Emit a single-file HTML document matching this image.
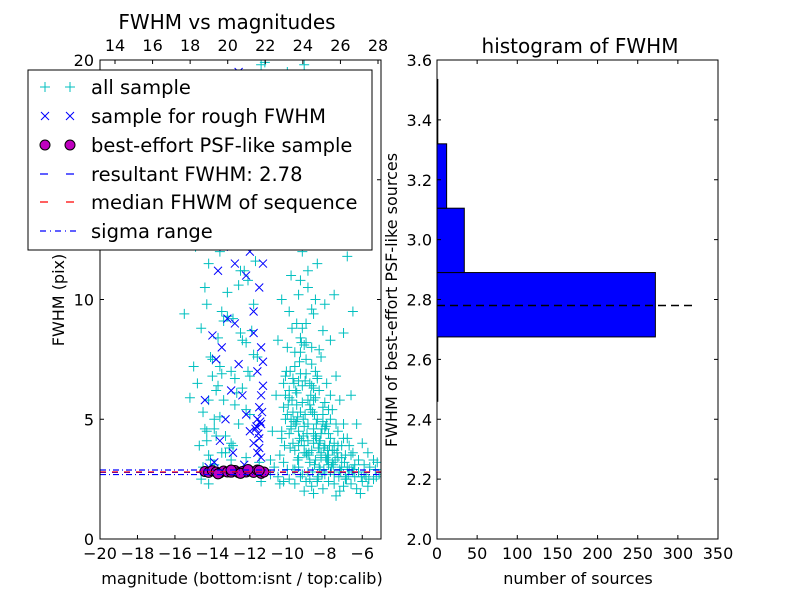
<!DOCTYPE html>
<html><head><meta charset="utf-8"><style>
body{margin:0;background:#fff;}
svg{font-family:"DejaVu Sans","Liberation Sans",sans-serif;}
</style></head><body>
<svg id="c" width="800" height="600" viewBox="0 0 800 600"></svg>
<script>
const allMag=[-15.5,-15,-14.8,-14.6,-14.5,-14.3,-14.7,-15.2,-14.4,-14.2,-14.9,-14.1,-14.6,-14.3,-14.0,-13.8,-13.6,-13.9,-13.5,-14.1,-13.7,-13.4,-13.2,-13.0,-12.8,-12.6,-13.3,-12.9,-12.4,-12.2,-12.5,-12.7,-13.1,-12.3,-12.0,-11.8,-13.6,-14.4,-13.8,-12.9,-12.6,-11.9,-11.6,-11.4,-11.2,-12.1,-13.5,-14.2,-13.9,-12.2,-11.5,-13.0,-14.5,-14.6,
-10.4,-10.3,-10.2,-10.1,-10.0,-9.9,-9.8,-9.6,-9.5,-9.7,-9.3,-9.1,-9.0,-8.8,-9.4,-9.2,-9.0,-8.8,-8.6,-8.4,-8.2,-8.0,-7.8,-7.6,-9.6,-9.5,-9.3,-9.1,-8.9,-8.7,-9.8,-9.7,-9.9,-10.2,-9.4,-8.5,-9.3,-9.0,-8.7,-8.5,-8.3,-8.1,-7.9,-7.7,-7.5,-8.9,-8.6,-8.2,-7.9,-7.6,-7.3,-7.1,-6.9,-8.4,-8.0,-7.7,-7.4,-7.2,-7.0,-6.8,-6.5,-6.2,-5.9,-5.6,-5.3,-7.0,-6.6,-6.3,-6.0,-5.7,-5.4,-9.9,-10.3,-10.5,-10.6,-10.8,-10.9,-9.2,-8.5,-8.0,-7.5,-9.6,-10.0,-8.8,-7.8,-6.5,-6.8,-7.2,
-9.5,-9.2,-8.9,-8.6,-8.3,-8.8,-9.1,-9.4,-9.7,-9.0,-8.7,-8.4,-8.1,-7.8,-7.5,-7.3,-8.2,-9.6,-9.9,-10.1,-9.3,-8.6,-8.0,-7.7,
-10.9,-10.5,-10.2,-9.9,-9.6,-9.3,-9.0,-8.7,-8.4,-8.1,-7.8,-7.5,-7.2,-6.9,-6.6,-6.3,-6.0,-5.7,-5.4,-5.1,-10.7,-10.0,-9.4,-8.9,-8.3,-7.7,-7.1,-6.5,-5.9,-5.2,-8.6,-7.4,-6.1,-9.1,-7.0,-6.7,-6.4,-8.0,-9.7,-10.4,-14.2,-11.4,
-9.45,-9.15,-8.85,-8.55,-8.25,-9.05,-8.75,-8.45,-9.35,-9.65,-8.95,-8.65,-8.35,-8.05,-9.25,-8.15,-7.85,-9.55,-7.95,-8.5,
-10.3,-10.1,-9.85,-9.75,-9.55,-9.35,-9.15,-8.95,-8.75,-8.55,-8.35,-8.15,-7.95,-7.75,-7.55,-7.35,-7.15,-6.95,-6.75,-6.55,
-10.2,-10.0,-9.8,-9.6,-9.4,-9.2,-9.0,-8.8,-8.6,-8.4,-8.2,-8.0,-7.8,-7.6,-7.4,-7.2,-7.0,-6.8,-6.6,-6.4,
-10.15,-9.95,-9.75,-9.5,-9.3,-9.1,-8.9,-8.7,-8.5,-8.3,-8.1,-7.9,-7.7,-7.5,-7.3,-7.1,-6.9,-6.7,-6.2,-5.8,
-10.05,-9.85,-9.65,-9.45,-9.25,-9.05,-8.85,-8.65,-8.45,-8.25,-8.05,-7.85,-7.65,-7.45,-7.25,-6.85,-6.45,-6.05,-5.65,-5.25,
-9.9,-9.7,-9.5,-9.3,-9.1,-8.9,-8.7,-8.5,-8.3,-8.1,-9.8,-9.4,-9.0,-8.6,-8.2,-7.8,-9.6,-9.2,-8.8,-8.4,
-14.4,-14.2,-14.0,-13.8,-13.6,-13.4,-13.2,-13.0,-12.8,-12.6,-12.4,-12.2,-12.0,-11.8,-11.6,-14.3,-13.9,-13.5,-13.1,-12.7,-12.3,-11.9,-14.1,-13.7,-13.3,-12.9,-12.5,-12.1,-11.7,-14.0];
const allFwhm=[9.4,7.2,6.5,8.8,5.3,4.1,3.9,5.9,10.5,11.5,12.2,13.5,14.2,9.8,7.5,6.2,5.1,4.6,3.6,3.3,8.4,9.1,10.3,7.0,5.6,4.8,4.3,3.9,6.3,8.2,11.2,12.8,14.9,15.5,5.2,7.7,12.0,16.5,17.2,18.0,16.2,13.3,16.8,19.8,19.9,10.8,6.9,5.8,3.1,3.4,3.2,3.3,3.0,2.5,
3.5,4.5,5.5,6.8,8.0,9.5,11.0,12.5,14.0,16.0,18.5,19.8,15.5,13.0,10.2,8.8,7.5,6.5,5.8,5.0,4.4,3.9,3.5,3.2,7.2,6.1,5.3,4.7,4.1,3.7,5.0,4.0,6.2,3.2,3.4,3.3,7.8,9.0,8.0,7.0,6.2,5.5,4.8,4.2,3.7,10.5,9.4,7.6,6.5,5.4,4.5,3.9,3.5,11.5,9.8,8.3,6.8,5.8,4.8,4.2,3.6,3.3,3.1,3.0,2.9,8.6,6.0,4.8,4.0,3.6,3.3,13.5,10.0,8.3,6.0,4.5,3.3,12.0,14.5,12.8,10.2,17.8,19.5,17.0,15.0,9.5,11.8,13.5,
5.6,6.4,5.8,4.6,4.0,3.2,3.9,4.5,5.3,6.9,7.3,6.7,4.9,4.4,4.0,3.4,3.6,3.7,4.4,5.0,6.9,6.3,5.7,5.0,
2.7,2.6,2.4,2.5,2.3,2.6,2.4,2.2,2.5,2.1,2.4,2.3,2.0,2.5,2.3,2.1,2.4,2.2,2.5,2.7,3.0,2.9,3.0,2.8,3.0,2.8,3.0,2.8,2.7,3.2,1.9,1.8,1.9,2.0,2.2,2.9,3.1,2.7,2.9,2.3,2.3,2.4,
5.1,4.3,3.6,3.1,2.9,6.6,5.4,4.2,7.4,4.9,3.5,2.8,2.6,3.8,8.2,2.7,3.3,6.2,4.7,5.9,
4.2,6.0,7.0,5.8,4.8,4.2,5.0,4.4,6.0,5.2,3.8,4.6,3.4,3.9,3.1,3.6,2.8,3.2,2.7,2.9,
6.5,5.2,4.6,7.8,6.6,5.7,8.2,5.6,4.0,6.8,3.5,4.6,5.4,3.7,4.8,2.9,4.2,3.0,3.5,2.6,
3.9,5.6,8.8,4.9,8.4,3.6,4.8,6.4,4.3,3.8,5.2,3.3,6.0,2.7,3.9,3.4,2.6,3.9,2.8,2.6,
7.0,3.8,6.5,3.3,4.1,5.2,3.5,5.3,4.8,4.1,2.9,3.7,3.0,3.3,2.6,2.5,2.9,2.6,2.5,2.6,
5.9,6.7,9.0,10.8,8.1,11.2,9.6,10.0,7.9,8.7,4.7,3.9,3.6,4.4,3.4,3.1,2.9,2.7,2.5,2.4,
4.6,3.5,6.8,4.3,7.2,5.8,9.3,4.0,6.7,10.6,8.3,5.4,6.8,9.8,7.6,4.5,5.0,9.5,3.8,6.1,11.2,8.7,7.6,6.4,3.6,9.2,8.6,7.0,11.6,13.0];
const roughMag=[-14.2,-13.9,-13.6,-13.3,-13.0,-13.8,-13.5,-13.2,-12.8,-12.6,-12.4,-12.2,-12.0,-11.8,-11.6,-11.4,-11.5,-11.3,-11.6,-11.4,-11.8,-11.5,-11.3,-11.7,-11.5,-11.9,-11.6,-11.4,-11.7,-12.6,-12.5,-12.3,-12.4,-13.0,-13.4,-12.8,-12.2,-12.0,-11.5,-11.7,-11.6,-11.4,-12.9,-14.4,-14.0,-13.7,-13.1,-12.1,-11.5,-11.4,-11.3,-11.8,-11.55,-11.45,-11.65,-11.35,-12.3,-11.5];
const roughFwhm=[3.0,3.2,4.1,5.0,6.2,7.5,8.0,9.2,9.0,7.3,6.0,5.2,4.5,4.0,3.6,4.8,5.5,6.4,7.0,8.0,9.5,10.5,11.5,12.5,13.5,14.2,15.5,17.0,18.5,19.5,18.2,16.8,14.8,13.5,12.2,11.5,11.0,12.0,4.2,4.6,5.0,3.4,3.6,5.8,8.5,11.2,15.8,17.5,19.0,6.0,7.4,8.6,4.4,4.9,4.7,5.3,3.1,3.8];
const bestMag=[-14.4,-14.2,-14.0,-13.8,-13.6,-13.4,-13.2,-13.0,-12.8,-12.6,-12.4,-12.2,-12.0,-11.8,-11.6,-11.4,-11.25,-13.0,-12.5,-13.7,-12.1,-11.5];
const bestFwhm=[2.82,2.78,2.85,2.8,2.76,2.84,2.8,2.79,2.86,2.77,2.82,2.8,2.84,2.78,2.88,2.74,2.8,2.88,2.74,2.72,2.9,2.86];
const resultFwhm=2.78, medianFwhm=2.8, sigmaLo=2.69, sigmaHi=2.88;
const histEdges=[2.46,2.675,2.89,3.105,3.32,3.535];
const histCounts=[1,272,34,12,1];
const xTicksBottom=[-20,-18,-16,-14,-12,-10,-8,-6];
const xTicksTop=[14,16,18,20,22,24,26,28];
const yTicksLeft=[0,5,10,15,20];
const hxTicks=[0,50,100,150,200,250,300,350];
const hyTicks=[2.0,2.2,2.4,2.6,2.8,3.0,3.2,3.4,3.6];

const NS="http://www.w3.org/2000/svg";
const svg=document.getElementById('c');
function mk(t,a,p){const e=document.createElementNS(NS,t);for(const k in a)e.setAttribute(k,a[k]);(p||svg).appendChild(e);return e;}
const L={x0:100,x1:381,y0:539,y1:60};
const sx=v=>L.x0+(v+20)/15*(L.x1-L.x0);
const sxt=v=>115+(v-14)*18.786;
const sy=v=>L.y0-v/20*(L.y0-L.y1);
const cl=mk('clipPath',{id:'lc'});mk('rect',{x:L.x0,y:L.y1,width:L.x1-L.x0,height:L.y0-L.y1},cl);
const plot=mk('g',{'clip-path':'url(#lc)'});


function plus(x,y,c,g){return mk('path',{d:`M${x-5},${y}h10M${x},${y-5}v10`,stroke:c,'stroke-width':1,fill:'none'},g);}
function cross(x,y,c,g){return mk('path',{d:`M${x-4},${y-4}l8,8M${x-4},${y+4}l8,-8`,stroke:c,'stroke-width':1,fill:'none'},g);}
for(let i=0;i<allMag.length;i++){const e=plus(sx(allMag[i]),sy(allFwhm[i]),'#00bfbf',plot);

}
for(let i=0;i<roughMag.length;i++){const e=cross(sx(roughMag[i]),sy(roughFwhm[i]),'#0000ff',plot);

}
for(let i=0;i<bestMag.length;i++){const e=mk('circle',{cx:sx(bestMag[i]),cy:sy(bestFwhm[i]),r:5,fill:'#bf00bf',stroke:'#000','stroke-width':1},plot);

}
function hl(v,c,da,name){const e=mk('line',{x1:L.x0,x2:L.x1,y1:sy(v),y2:sy(v),stroke:c,'stroke-width':1.2,'stroke-dasharray':da},plot);

}
hl(sigmaLo,'#0000ff','6 3 1 3','sigma-low-line');
hl(sigmaHi,'#0000ff','6 3 1 3','sigma-high-line');
hl(resultFwhm,'#0000ff','6 6','resultant-fwhm-line');
hl(medianFwhm,'#ff0000','6 6','median-fwhm-line');
mk('rect',{x:L.x0,y:L.y1,width:L.x1-L.x0,height:L.y0-L.y1,fill:'none',stroke:'#000','stroke-width':1});
function txt(x,y,s,sz,anc,p){const e=mk('text',{x:x,y:y,'font-size':sz,'text-anchor':anc||'middle',fill:'#000'},p);e.textContent=s;return e;}
xTicksBottom.forEach(v=>{const x=sx(v);mk('line',{x1:x,x2:x,y1:L.y0,y2:L.y0-4,stroke:'#000'});
const t=txt(x,559,(v<0?'\u2212':'')+Math.abs(v),16);});
xTicksTop.forEach(v=>{const x=sxt(v);mk('line',{x1:x,x2:x,y1:L.y1,y2:L.y1+4,stroke:'#000'});
const t=txt(x,51,String(v),16);});
yTicksLeft.forEach(v=>{const y=sy(v);mk('line',{x1:L.x0,x2:L.x0+4,y1:y,y2:y,stroke:'#000'});mk('line',{x1:L.x1,x2:L.x1-4,y1:y,y2:y,stroke:'#000'});
const t=txt(94,y+6,String(v),16,'end');});
let t=txt(227,29,'FWHM vs magnitudes',20);
t=txt(242,584,'magnitude (bottom:isnt / top:calib)',16);
t=txt(0,0,'FWHM (pix)',16);t.setAttribute('transform','translate(64,300) rotate(-90)');
const lg=mk('g',{});
mk('rect',{x:28,y:70,width:344,height:180,fill:'#fff',stroke:'#000','stroke-width':1},lg);
const ly=[87,116,145,174,202,231];
const labels=['all sample','sample for rough FWHM','best-effort PSF-like sample','resultant FWHM: 2.78','median FHWM of sequence','sigma range'];
plus(45,ly[0],'#00bfbf',lg);plus(70,ly[0],'#00bfbf',lg);
cross(45,ly[1],'#0000ff',lg);cross(70,ly[1],'#0000ff',lg);
mk('circle',{cx:45,cy:ly[2],r:5,fill:'#bf00bf',stroke:'#000'},lg);mk('circle',{cx:70,cy:ly[2],r:5,fill:'#bf00bf',stroke:'#000'},lg);
mk('line',{x1:40,x2:76,y1:ly[3],y2:ly[3],stroke:'#0000ff','stroke-width':1.2,'stroke-dasharray':'8 18'},lg);
mk('line',{x1:40,x2:76,y1:ly[4],y2:ly[4],stroke:'#ff0000','stroke-width':1.2,'stroke-dasharray':'8 18'},lg);
mk('line',{x1:40,x2:76,y1:ly[5],y2:ly[5],stroke:'#0000ff','stroke-width':1.2,'stroke-dasharray':'6 4 1 4'},lg);
labels.forEach((s,i)=>{const e=txt(91,ly[i]+7,s,19.5,'start',lg);});
const R={x0:437,x1:718,y0:539,y1:60};
const hx=v=>R.x0+v/350*(R.x1-R.x0);
const hy=v=>R.y0-(v-2)/1.6*(R.y0-R.y1);
for(let i=0;i<histCounts.length;i++){const e=mk('rect',{x:hx(0),y:hy(histEdges[i+1]),width:Math.max(hx(histCounts[i])-hx(0),0.5),height:hy(histEdges[i])-hy(histEdges[i+1]),fill:'#0000ff',stroke:'#000','stroke-width':1});

}
let hd=mk('line',{x1:hx(0),x2:hx(320),y1:hy(resultFwhm),y2:hy(resultFwhm),stroke:'#000','stroke-width':1.5,'stroke-dasharray':'8 5'});

mk('rect',{x:R.x0,y:R.y1,width:R.x1-R.x0,height:R.y0-R.y1,fill:'none',stroke:'#000'});
hxTicks.forEach(v=>{const x=hx(v);mk('line',{x1:x,x2:x,y1:R.y0,y2:R.y0-4,stroke:'#000'});mk('line',{x1:x,x2:x,y1:R.y1,y2:R.y1+4,stroke:'#000'});
const e=txt(x,559,String(v),16);});
hyTicks.forEach(v=>{const y=hy(v);mk('line',{x1:R.x0,x2:R.x0+4,y1:y,y2:y,stroke:'#000'});mk('line',{x1:R.x1,x2:R.x1-4,y1:y,y2:y,stroke:'#000'});
const e=txt(432,y+6,v.toFixed(1),16,'end');});
t=txt(580,53,'histogram of FWHM',20);
t=txt(578,584,'number of sources',16);
t=txt(0,0,'FWHM of best-effort PSF-like sources',16);t.setAttribute('transform','translate(397,300) rotate(-90)');
</script>
</body></html>
